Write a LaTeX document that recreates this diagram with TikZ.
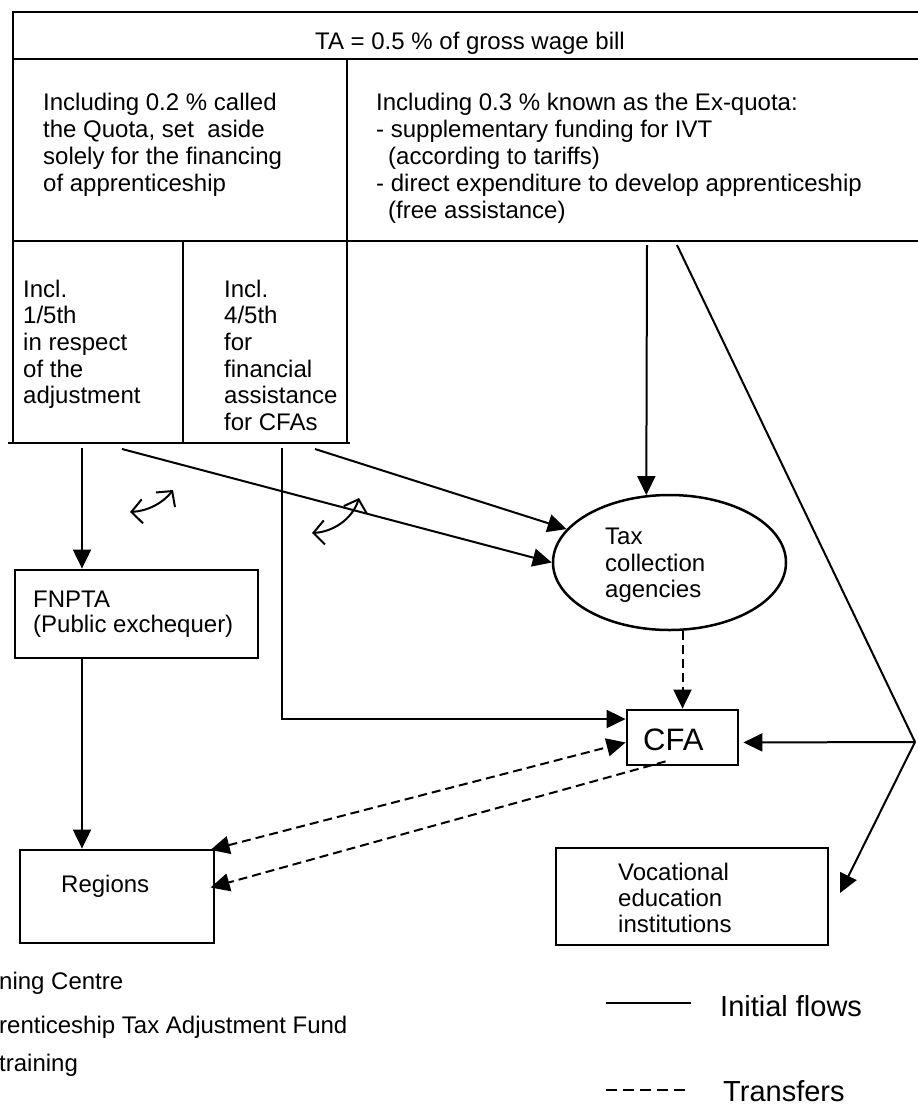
\documentclass[tikz,border=0pt]{standalone}
\usepackage{fontspec}
\setmainfont{Liberation Sans}
\usetikzlibrary{arrows.meta,shapes.geometric}
\tikzset{
  tbl/.style={line width=2.5pt, line cap=rect},
  box/.style={draw, line width=2.8pt, inner sep=0pt},
  lbl/.style={inner sep=0pt, font=\fontsize{24}{26.7}\selectfont, align=left},
  flow/.style={line width=2pt, -{Triangle[length=19pt,width=18pt]}},
  xfer/.style={line width=2pt, dash pattern=on 9pt off 5pt, -{Triangle[length=19pt,width=18pt]}},
  xferboth/.style={line width=2pt, dash pattern=on 9pt off 5pt, {Triangle[length=19pt,width=18pt]}-{Triangle[length=19pt,width=18pt]}},
  swap/.style={line width=2pt, {Straight Barb[length=11pt,width=24pt]}-{Straight Barb[length=11pt,width=24pt]}},
  plain/.style={line width=2pt},
}
\begin{document}
\begin{tikzpicture}[x=1pt,y=-1pt]
\useasboundingbox (0,0) rectangle (918,1106);
% ---- table ----
\draw[tbl] (13,12) -- (918,12);
\draw[tbl] (13,59) -- (918,59);
\draw[tbl] (13,241) -- (918,241);
\draw[tbl] (9,443) -- (349,443);
\draw[tbl] (13,12) -- (13,443);
\draw[tbl] (347,59) -- (347,443);
\draw[tbl] (183,241) -- (183,443);
\node[lbl, anchor=base] (title) at (470,49) {TA = 0.5 \% of gross wage bill};
\node[lbl, anchor=north west, font=\fontsize{24}{27}\selectfont] (quota) at (43,92.5)
  {Including 0.2 \% called\\the Quota, set\ \ aside\\solely for the financing\\of apprenticeship};
\node[lbl, anchor=north west, font=\fontsize{24}{27}\selectfont] (exquota) at (376,92.5)
  {Including 0.3 \% known as the Ex-quota:\\- supplementary funding for IVT\\\hspace*{12pt}(according to tariffs)\\- direct expenditure to develop apprenticeship\\\hspace*{12pt}(free assistance)};
\node[lbl, anchor=north west] (adj) at (23,279.5) {Incl.\\1/5th\\in respect\\of the\\adjustment};
\node[lbl, anchor=north west] (fin) at (224,279.5) {Incl.\\4/5th\\for\\financial\\assistance\\for CFAs};
% ---- boxes ----
\node[box, minimum width=243pt, minimum height=88pt] (fnpta) at (136.5,614) {};
\node[lbl, anchor=north west, font=\fontsize{24}{25}\selectfont] (fnptatxt) at (33,591) {FNPTA\\(Public exchequer)};
\node[draw, ellipse, line width=2.5pt, minimum width=233pt, minimum height=135pt, inner sep=0pt] (tax) at (669.5,562.5) {};
\node[lbl, anchor=north west, font=\fontsize{24}{26.5}\selectfont] (taxtxt) at (605,527.8) {Tax\\collection\\agencies};
\node[box, minimum width=111pt, minimum height=55pt] (cfa) at (682.5,737.5) {};
\node[inner sep=0pt, anchor=base west, font=\fontsize{31}{34}\selectfont] (cfatxt) at (643,750) {CFA};
\node[box, minimum width=194pt, minimum height=93pt] (regions) at (117,896.5) {};
\node[lbl, anchor=base west] (regtxt) at (61,892) {Regions};
\node[box, minimum width=272pt, minimum height=97pt] (voc) at (692,896.5) {};
\node[lbl, anchor=north west, font=\fontsize{24}{26}\selectfont] (voctxt) at (618,862.5) {Vocational\\education\\institutions};
% ---- connector anchors ----
\coordinate (a1) at (82,448);
\coordinate (a2) at (122,449);
\coordinate (a3) at (282,448);
\coordinate (a4) at (315,449);
\coordinate (a5) at (647,245);
\coordinate (a6) at (677,245);
\coordinate (vx) at (915,742);
\coordinate (vtip) at (840,893);
% ---- connectors ----
\draw[flow] (a1) -- (a1 |- fnpta.north);
\draw[flow] (a2) -- (tax.west);
\draw[flow] (a3) |- (cfa.162);
\draw[flow] (a4) -- (tax.162);
\draw[flow] (a5) -- (tax.109);
\draw[plain] (a6) -- (vx);
\draw[flow, shorten >=4pt] (vx) -- (cfa.-5);
\draw[flow] (vx) -- (vtip);
\draw[flow] (fnpta.south -| a1) -- (regions.north -| a1);
\draw[xfer] (cfa |- tax.south) -- (cfa.north);
\draw[xferboth, shorten <=-5pt] (regions.north east) -- (cfa.185);
\draw[xfer, shorten >=-5pt] ([xshift=-17pt,yshift=5pt]cfa.south) -- (regions.6);
% ---- swap arrows ----
\coordinate (s1a) at (130,512);
\coordinate (s1b) at (173,490);
\coordinate (s2a) at (312,533);
\coordinate (s2b) at (359,498);
\draw[swap] (s1a) .. controls (148,511) and (163,503) .. (s1b);
\draw[swap] (s2a) .. controls (332,532) and (352,520) .. (s2b);
% ---- legend ----
\node[lbl, anchor=base west] (lg1) at (-1,989) {ning Centre};
\node[lbl, anchor=base west] (lg2) at (-1,1033) {renticeship Tax Adjustment Fund};
\node[lbl, anchor=base west] (lg3) at (-1,1071) {training};
\coordinate (ls1) at (606,1003);
\coordinate (ls2) at (691,1003);
\coordinate (ld1) at (606,1090);
\coordinate (ld2) at (691,1090);
\draw[line width=1.4pt] (ls1) -- (ls2);
\draw[line width=1.4pt, dash pattern=on 11pt off 6pt] (ld1) -- (ld2);
\node[inner sep=0pt, anchor=base west, font=\fontsize{29}{32}\selectfont] (lgi) at (720,1016) {Initial flows};
\node[inner sep=0pt, anchor=base west, font=\fontsize{29}{32}\selectfont] (lgt) at (723,1101) {Transfers};
\end{tikzpicture}
\end{document}
